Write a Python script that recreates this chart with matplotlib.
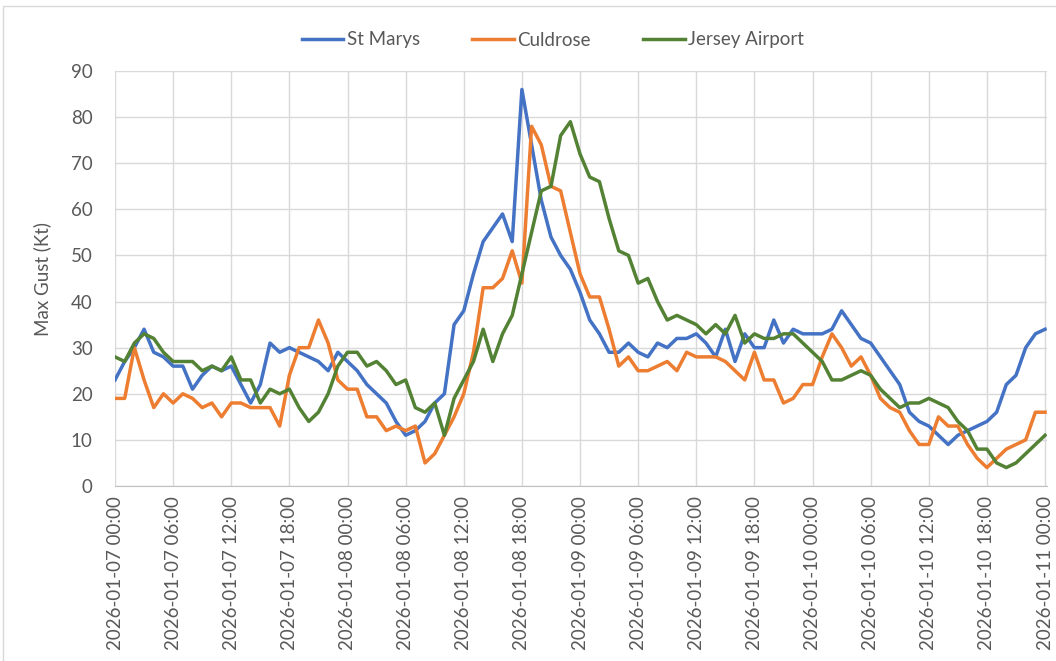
import matplotlib
matplotlib.use("Agg")
from matplotlib import pyplot as plt
import matplotlib.dates as mdates
import pandas as pd

# hourly max gust (kt), 2026-01-07 00:00 .. 2026-01-11 00:00
times = pd.date_range("2026-01-07 00:00", periods=97, freq="h")

st_marys = [23, 27, 30, 34, 29, 28, 26, 26, 21, 24, 26, 25, 26, 22, 18, 22, 31, 29, 30, 29,
            28, 27, 25, 29, 27, 25, 22, 20, 18, 14, 11, 12, 14, 18, 20, 35, 38, 46, 53, 56,
            59, 53, 86, 74, 62, 54, 50, 47, 42, 36, 33, 29, 29, 31, 29, 28, 31, 30, 32, 32,
            33, 31, 28, 34, 27, 33, 30, 30, 36, 31, 34, 33, 33, 33, 34, 38, 35, 32, 31, 28,
            25, 22, 16, 14, 13, 11, 9, 11, 12, 13, 14, 16, 22, 24, 30, 33, 34]
culdrose = [19, 19, 30, 23, 17, 20, 18, 20, 19, 17, 18, 15, 18, 18, 17, 17, 17, 13, 24, 30,
            30, 36, 31, 23, 21, 21, 15, 15, 12, 13, 12, 13, 5, 7, 11, 15, 20, 29, 43, 43,
            45, 51, 44, 78, 74, 65, 64, 55, 46, 41, 41, 34, 26, 28, 25, 25, 26, 27, 25, 29,
            28, 28, 28, 27, 25, 23, 29, 23, 23, 18, 19, 22, 22, 28, 33, 30, 26, 28, 24, 19,
            17, 16, 12, 9, 9, 15, 13, 13, 9, 6, 4, 6, 8, 9, 10, 16, 16]
jersey = [28, 27, 31, 33, 32, 29, 27, 27, 27, 25, 26, 25, 28, 23, 23, 18, 21, 20, 21, 17,
          14, 16, 20, 26, 29, 29, 26, 27, 25, 22, 23, 17, 16, 18, 11, 19, 23, 27, 34, 27,
          33, 37, 46, 55, 64, 65, 76, 79, 72, 67, 66, 58, 51, 50, 44, 45, 40, 36, 37, 36,
          35, 33, 35, 33, 37, 31, 33, 32, 32, 33, 33, 31, 29, 27, 23, 23, 24, 25, 24, 21,
          19, 17, 18, 18, 19, 18, 17, 14, 12, 8, 8, 5, 4, 5, 7, 9, 11]

series = ["St Marys", "Culdrose", "Jersey Airport"]
colors = ["#4472C4", "#ED7D31", "#548235"]

plt.rcParams['font.family'] = ['Lato', 'DejaVu Sans']
txt = '#595959'
fs = 13.5

fig = plt.figure(figsize=(10.56, 6.61), dpi=100)
ax = fig.add_axes([115/1056, 1-486/661, 932/1056, 415/661])

for name, vals, c in zip(series, [st_marys, culdrose, jersey], colors):
    ax.plot(times, vals, color=c, lw=2.5, label=name)

ax.set_ylim(0, 90)
ax.set_yticks(range(0, 91, 10))
ax.set_xlim(times[0], times[-1] + pd.Timedelta(minutes=12))
ax.xaxis.set_major_locator(mdates.HourLocator(byhour=[0, 6, 12, 18]))
ax.xaxis.set_major_formatter(mdates.DateFormatter('%Y-%m-%d %H:%M'))
plt.setp(ax.get_xticklabels(), rotation=90)
ax.tick_params(axis='both', colors=txt, labelsize=fs, length=0)
ax.tick_params(axis='x', pad=7)
ax.tick_params(axis='y', pad=16)
ax.grid(True, color='#d9d9d9', lw=1)
ax.set_axisbelow(True)
for s in ['top', 'right', 'left']:
    ax.spines[s].set_visible(False)
ax.spines['bottom'].set_color('#bfbfbf')
ax.set_ylabel('Max Gust (Kt)', color=txt, fontsize=fs, labelpad=14)

fig.legend(loc='center', bbox_to_anchor=(553/1056, 1-40/661), ncol=3, frameon=False,
           fontsize=fs, labelcolor=txt, handlelength=2.2, handletextpad=0.2,
           columnspacing=2.8)

fig.patches.append(plt.Rectangle((3/1056, -0.1), 1.1, (661-6)/661 + 0.1,
                                 transform=fig.transFigure, fill=False,
                                 edgecolor='#d9d9d9', lw=1))

fig.savefig('out.png', dpi=100)
